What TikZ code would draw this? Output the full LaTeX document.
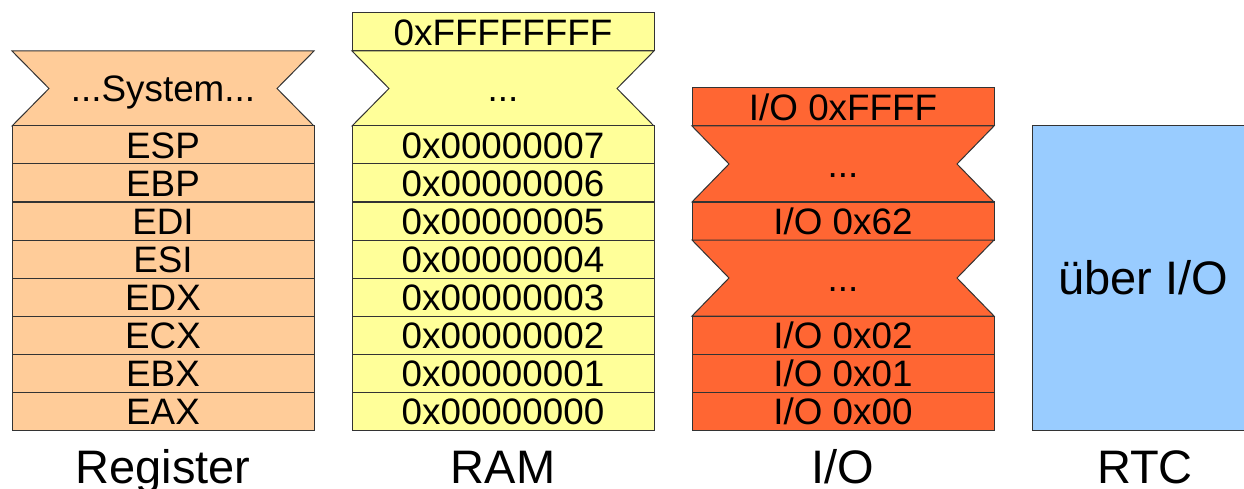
\documentclass[tikz,border=0pt]{standalone}
\usepackage{fontspec}
\setmainfont{Liberation Sans}
\definecolor{regfill}{HTML}{FFCC99}
\definecolor{ramfill}{HTML}{FFFF99}
\definecolor{iofill}{HTML}{FF6633}
\definecolor{rtcfill}{HTML}{99CCFF}
\definecolor{edge}{HTML}{333333}
\begin{document}
\begin{tikzpicture}[x=1pt,y=-1pt,
  cell/.style={draw=edge, line width=1pt, rectangle, inner sep=0pt, outer sep=0pt,
    minimum width=302pt, minimum height=38pt,
    font=\fontsize{36.8}{40}\selectfont, text height=26.3pt, text depth=0pt},
  regcell/.style={cell, fill=regfill},
  ramcell/.style={cell, fill=ramfill},
  iocell/.style={cell, fill=iofill},
  glass/.style={draw=edge, line width=1pt, line join=miter},
  celltext/.style={inner sep=0pt, font=\fontsize{36.8}{40}\selectfont, text height=26.3pt, text depth=0pt},
  caption/.style={inner sep=0pt, anchor=base, font=\fontsize{47}{50}\selectfont}
]
\useasboundingbox (0,0) rectangle (1244,489);
\fill[white] (0,0) rectangle (1244,489);

% ---------- Register ----------
\draw[glass, fill=regfill] (12,51) -- (314,51) -- (277,88.5) -- (314,126) -- (12,126) -- (49,88.5) -- cycle;
\node[celltext] (sys) at (163,88.5) {...System...};
\node[regcell] (esp) at (163,145) {ESP};
\node[regcell] (ebp) at (163,183) {EBP};
\node[regcell] (edi) at (163,221) {EDI};
\node[regcell] (esi) at (163,259) {ESI};
\node[regcell] (edx) at (163,297) {EDX};
\node[regcell] (ecx) at (163,335) {ECX};
\node[regcell] (ebx) at (163,373) {EBX};
\node[regcell] (eax) at (163,411) {EAX};
\node[caption] (lreg) at (163,483) {Register};

% ---------- RAM ----------
\node[ramcell] (ramtop) at (503,32) {0xFFFFFFFF};
\draw[glass, fill=ramfill] (352,51) -- (654,51) -- (617,88.5) -- (654,126) -- (352,126) -- (389,88.5) -- cycle;
\node[celltext] (ramdots) at (503,88.5) {...};
\node[ramcell] (r7) at (503,145) {0x00000007};
\node[ramcell] (r6) at (503,183) {0x00000006};
\node[ramcell] (r5) at (503,221) {0x00000005};
\node[ramcell] (r4) at (503,259) {0x00000004};
\node[ramcell] (r3) at (503,297) {0x00000003};
\node[ramcell] (r2) at (503,335) {0x00000002};
\node[ramcell] (r1) at (503,373) {0x00000001};
\node[ramcell] (r0) at (503,411) {0x00000000};
\node[caption] (lram) at (503,483) {RAM};

% ---------- I/O ----------
\node[iocell] (ioffff) at (843,107) {I/O 0xFFFF};
\draw[glass, fill=iofill] (692,126) -- (994,126) -- (957,164) -- (994,202) -- (692,202) -- (729,164) -- cycle;
\node[celltext] (iodotsa) at (843,164) {...};
\node[iocell] (io62) at (843,221) {I/O 0x62};
\draw[glass, fill=iofill] (692,240) -- (994,240) -- (957,278) -- (994,316) -- (692,316) -- (729,278) -- cycle;
\node[celltext] (iodotsb) at (843,278) {...};
\node[iocell] (io02) at (843,335) {I/O 0x02};
\node[iocell] (io01) at (843,373) {I/O 0x01};
\node[iocell] (io00) at (843,411) {I/O 0x00};
\node[caption] (lio) at (843,483) {I/O};

% ---------- RTC ----------
\node[draw=edge, line width=1pt, fill=rtcfill, rectangle, inner sep=0pt, outer sep=0pt,
      minimum width=226pt, minimum height=304pt] (rtc) at (1145,278) {};
\node[inner sep=0pt, font=\fontsize{47}{50}\selectfont, text height=33.7pt, text depth=0pt] (rtctext) at (1143,278) {über I/O};
\node[caption] (lrtc) at (1145,483) {RTC};
\end{tikzpicture}
\end{document}
